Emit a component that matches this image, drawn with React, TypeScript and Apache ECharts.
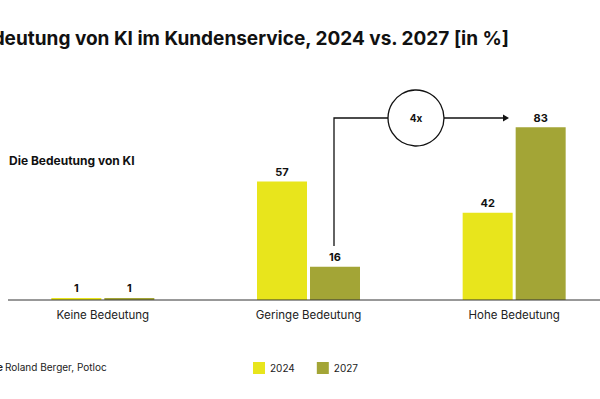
import React, { useEffect, useRef } from "react";
import * as echarts from "echarts";

const categories = ["Keine Bedeutung", "Geringe Bedeutung", "Hohe Bedeutung"];
const values2024 = [1, 57, 42];
const values2027 = [1, 16, 83];
const seriesNames = ["2024", "2027"];
const titleText = "Die Bedeutung von KI im Kundenservice, 2024 vs. 2027 [in %]";
const subtitleText = "Die Bedeutung von KI";
const sourceLabel = "Quelle";
const sourceText = "Roland Berger, Potloc";
const multiplierText = "4x";

const FONT = "Inter, 'Noto Sans', sans-serif";
const YELLOW = "#E8E51C";
const OLIVE = "#A3A536";

export default function App() {
  const ref = useRef<HTMLDivElement>(null);
  useEffect(() => {
    if (!ref.current) return;
    const chart = echarts.init(ref.current, null, { renderer: "svg" });
    const labelCfg = {
      show: true,
      position: "top" as const,
      distance: 4,
      color: "#111",
      fontWeight: "bold" as const,
      fontSize: 11,
      fontFamily: FONT,
    };
    chart.setOption({
      animation: false,
      backgroundColor: "#ffffff",
      textStyle: { fontFamily: FONT },
      grid: { left: -1, width: 618, top: 92, bottom: 99, containLabel: false },
      legend: {
        data: seriesNames,
        left: 248,
        top: 357,
        itemWidth: 12,
        itemHeight: 12,
        itemGap: 22,
        icon: "rect",
        textStyle: { fontSize: 10, color: "#222", fontFamily: FONT },
      },
      xAxis: {
        type: "category",
        data: categories,
        axisLine: { show: false },
        axisTick: { show: false },
        axisLabel: { fontSize: 11.5, color: "#222", margin: 9, fontFamily: FONT },
      },
      yAxis: {
        type: "value",
        min: 0,
        max: 100,
        show: false,
        splitLine: { show: false },
      },
      series: [
        {
          name: seriesNames[0],
          type: "bar",
          data: values2024,
          barWidth: 50,
          barGap: "6%",
          itemStyle: { color: YELLOW },
          label: labelCfg,
        },
        {
          name: seriesNames[1],
          type: "bar",
          data: values2027,
          barWidth: 50,
          itemStyle: { color: OLIVE },
          label: labelCfg,
        },
      ],
      graphic: [
        {
          type: "line",
          shape: { x1: 8, y1: 300, x2: 600, y2: 300 },
          style: { stroke: "#333", lineWidth: 1 },
          z: 10,
        },
        {
          type: "text",
          x: 509,
          y: 38,
          style: {
            text: titleText,
            textAlign: "right",
            textVerticalAlign: "middle",
            fontSize: 19,
            fontWeight: "bold",
            fill: "#111",
            fontFamily: FONT,
          },
        },
        {
          type: "text",
          x: 9,
          y: 160,
          style: {
            text: subtitleText,
            textVerticalAlign: "middle",
            fontSize: 12,
            fontWeight: "bold",
            fill: "#111",
            fontFamily: FONT,
          },
        },
        {
          type: "text",
          x: 3,
          y: 367,
          style: {
            text: sourceLabel,
            textAlign: "right",
            textVerticalAlign: "middle",
            fontSize: 10,
            fontWeight: "bold",
            fill: "#222",
            fontFamily: FONT,
          },
        },
        {
          type: "text",
          x: 5,
          y: 367,
          style: {
            text: sourceText,
            textVerticalAlign: "middle",
            fontSize: 10,
            fill: "#222",
            fontFamily: FONT,
          },
        },
        {
          type: "polyline",
          shape: { points: [[334, 246], [334, 118], [388, 118]] },
          style: { stroke: "#111", lineWidth: 1.3, fill: null },
        },
        {
          type: "circle",
          shape: { cx: 416, cy: 118, r: 28 },
          style: { stroke: "#111", lineWidth: 1.3, fill: "#fff" },
        },
        {
          type: "text",
          x: 416,
          y: 118,
          style: {
            text: multiplierText,
            textAlign: "center",
            textVerticalAlign: "middle",
            fontSize: 10,
            fontWeight: "bold",
            fill: "#111",
            fontFamily: FONT,
          },
        },
        {
          type: "line",
          shape: { x1: 444, y1: 118, x2: 505, y2: 118 },
          style: { stroke: "#111", lineWidth: 1.3 },
        },
        {
          type: "polygon",
          shape: { points: [[503, 114.5], [509, 118], [503, 121.5]] },
          style: { fill: "#111" },
        },
      ],
    });
    return () => chart.dispose();
  }, []);
  return (
    <div style={{ width: 600, height: 399, position: "absolute", left: 0, top: 0, overflow: "hidden" }}>
      <div ref={ref} style={{ width: 640, height: 399 }} />
    </div>
  );
}
